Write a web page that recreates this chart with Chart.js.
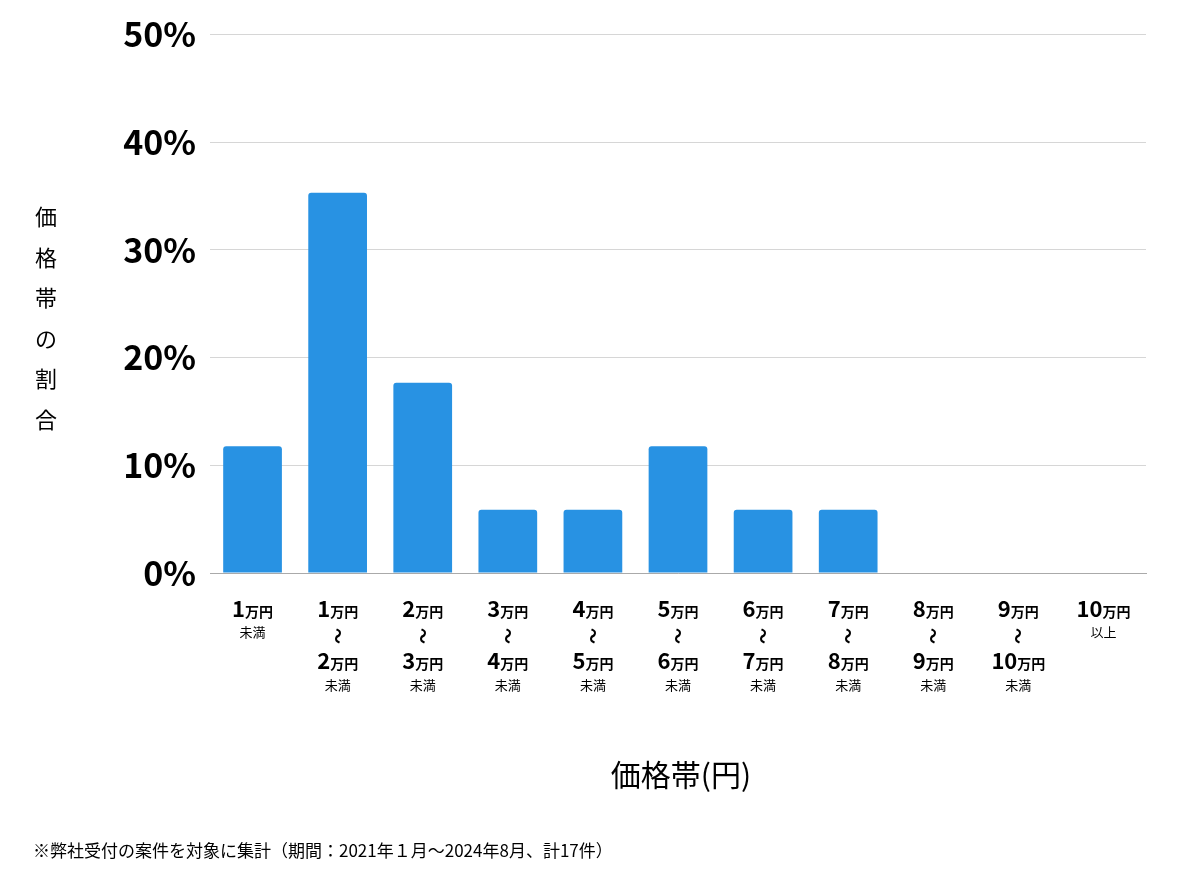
<!DOCTYPE html>
<html><head><meta charset="utf-8">
<script src="https://cdn.jsdelivr.net/npm/chart.js@4"></script>
<style>body{margin:0;background:#fff}canvas{display:block}</style>
</head><body><canvas id="c" width="1200" height="874"></canvas>
<script>
const categories=["1万円未満","1万円〜2万円未満","2万円〜3万円未満","3万円〜4万円未満","4万円〜5万円未満","5万円〜6万円未満","6万円〜7万円未満","7万円〜8万円未満","8万円〜9万円未満","9万円〜10万円未満","10万円以上"];
const values=[11.76,35.29,17.65,5.88,5.88,11.76,5.88,5.88,0,0,0];
const labelFrom=["1","1","2","3","4","5","6","7","8","9","10"];
const labelTo=[null,"2","3","4","5","6","7","8","9","10",null];
const labelSuffix=["未満","未満","未満","未満","未満","未満","未満","未満","未満","未満","以上"];
const yTitle="価格帯の割合";
const xTitle="価格帯(円)";
const footnote="※弊社受付の案件を対象に集計（期間：2021年１月〜2024年8月、計17件）";
const F='"Noto Sans CJK JP","Noto Sans",sans-serif';
function man(ctx,num,cx,y){
  ctx.font='bold 22px '+F;const w1=ctx.measureText(num).width;
  ctx.font='bold 14px '+F;const w2=ctx.measureText('万円').width;
  let x=cx-(w1+w2)/2;ctx.textAlign='left';ctx.textBaseline='alphabetic';
  ctx.font='bold 22px '+F;ctx.fillText(num,x,y);
  ctx.font='bold 14px '+F;ctx.fillText('万円',x+w1,y);
}
const deco={id:'deco',afterDraw(ch){
  const ctx=ch.ctx,xs=ch.scales.x;ctx.save();ctx.fillStyle='#000';
  categories.forEach((c,i)=>{
    const cx=xs.getPixelForValue(i);
    man(ctx,labelFrom[i],cx,617);
    ctx.font='13px '+F;ctx.textAlign='center';
    if(labelTo[i]){
      ctx.save();ctx.translate(cx,636);ctx.rotate(Math.PI/2);ctx.font='bold 16px '+F;ctx.textBaseline='middle';ctx.fillText('〜',0,0);ctx.restore();
      man(ctx,labelTo[i],cx,669);
      ctx.font='13px '+F;ctx.textAlign='center';ctx.fillText(labelSuffix[i],cx,690);
    } else {ctx.fillText(labelSuffix[i],cx,637);}
  });
  ctx.font='22px '+F;ctx.textAlign='center';ctx.textBaseline='middle';
  [...yTitle].forEach((ch2,k)=>ctx.fillText(ch2,46,217+k*40.5));
  ctx.font='30px '+F;ctx.fillText(xTitle,681,775);
  ctx.font='17px '+F;ctx.textAlign='left';ctx.fillText(footnote,33,851);
  ctx.restore();
}};
new Chart(document.getElementById('c'),{type:'bar',
 data:{labels:categories,datasets:[{data:values,backgroundColor:'#2892e3',borderRadius:{topLeft:3,topRight:3},borderSkipped:'bottom',barPercentage:0.69,categoryPercentage:1}]},
 options:{responsive:false,animation:false,layout:{padding:{left:0,right:54,top:10,bottom:293}},
  plugins:{legend:{display:false},tooltip:{enabled:false}},
  scales:{x:{ticks:{display:false},grid:{display:false},border:{color:'#aaa'}},
   y:{min:0,max:50,afterFit(s){s.width=210;},ticks:{stepSize:10,padding:14,color:'#000',font:{family:F,size:34,weight:'bold'},callback:v=>v+'%'},grid:{color:'#d6d6d6',drawTicks:false},border:{display:false}}}},
 plugins:[deco]});
</script></body></html>
